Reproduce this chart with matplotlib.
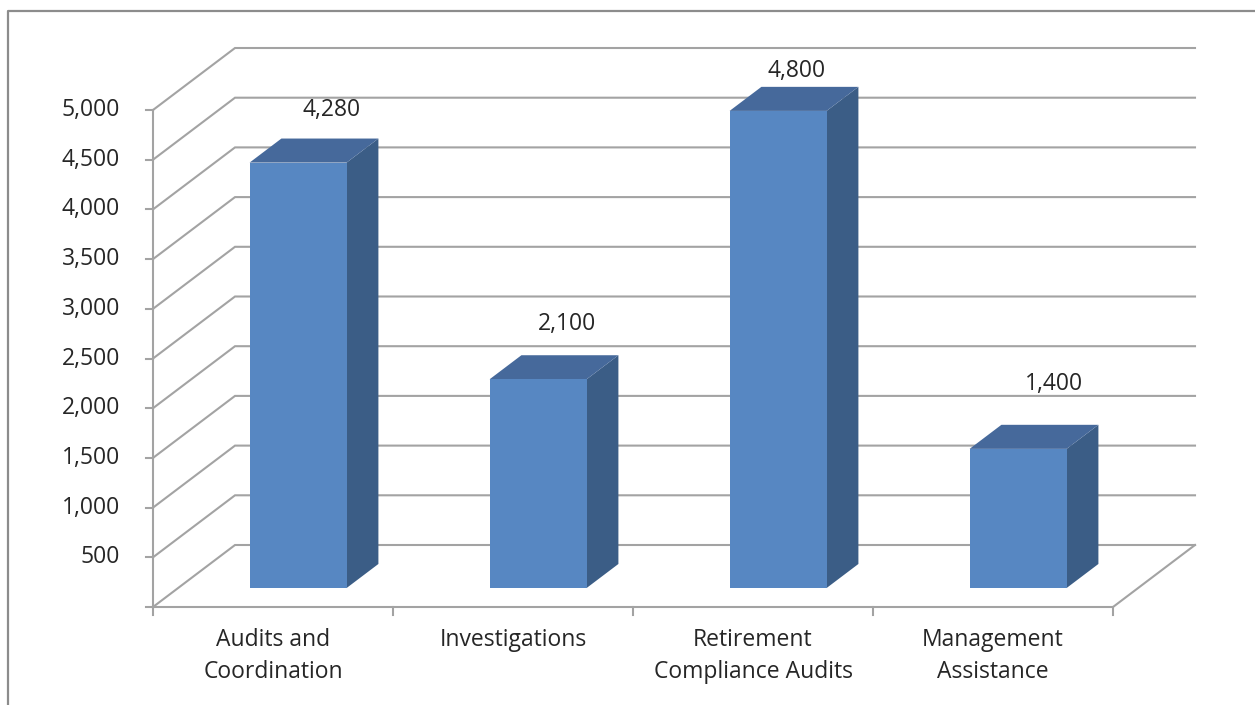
import matplotlib.pyplot as plt
from matplotlib.patches import Polygon
from matplotlib.lines import Line2D

# chart data
categories = ['Audits and\nCoordination', 'Investigations',
              'Retirement\nCompliance Audits', 'Management\nAssistance']
values = [4280, 2100, 4800, 1400]
value_labels = ['4,280', '2,100', '4,800', '1,400']
y_ticks = [0, 500, 1000, 1500, 2000, 2500, 3000, 3500, 4000, 4500, 5000]
y_tick_labels = ['', '500', '1,000', '1,500', '2,000', '2,500', '3,000',
                 '3,500', '4,000', '4,500', '5,000']

# pixel scale of the front plane (used only to place the fake 3d depth)
PX_X = 240.0      # px per category
PX_Y = 0.0994     # px per unit of value
X0_PX, Y0_PX = 153, 607   # where (0, 0) sits in the picture

back_dx = 82 / PX_X        # offset of back wall, in category units
back_dy = 62 / PX_Y        # and in value units
depth_front = 0.306        # bar front face depth (0 = front, 1 = back wall)
depth_back = 0.694
bar_width = 97 / PX_X

front_col = '#5787c2'
side_col = '#3b5d86'
top_col = '#46699b'
grid_col = '#a3a3a3'
text_col = '#262626'
FS = 16.5

# small per-label nudges (px) to sit the labels where excel put them
label_nudge_px = [(18, -41), (13, -43), (3, -28), (20, -53)]

plt.rcParams['font.family'] = ['Open Sans', 'DejaVu Sans']


def proj(x, y, d):
    return (x + d * back_dx, y + d * back_dy)


fig = plt.figure(figsize=(12.55, 7.05), dpi=100)
ax = fig.add_axes([0, 0, 1, 1])
ax.set_xlim(-X0_PX / PX_X, (1255 - X0_PX) / PX_X)
ax.set_ylim(-(705 - Y0_PX) / PX_Y, Y0_PX / PX_Y)
ax.axis('off')

n = len(categories)

# gridlines: front-left diagonal + back wall line
for v, lab in zip(y_ticks, y_tick_labels):
    p0 = proj(0, v, 0)
    p1 = proj(0, v, 1)
    p2 = proj(n, v, 1)
    ax.plot([p0[0], p1[0], p2[0]], [p0[1], p1[1], p2[1]],
            color=grid_col, lw=1.5, solid_joinstyle='miter', zorder=1)
    # tick mark on front axis
    ax.plot([-7 / PX_X, 0], [v, v], color=grid_col, lw=1.5, zorder=2)
    ax.text(-33 / PX_X, v, lab, ha='right', va='center',
            fontsize=FS, color=text_col)

# front vertical axis
ax.plot([0, 0], [0, y_ticks[-1]], color=grid_col, lw=1.5, zorder=2)

# floor: front edge and right diagonal
pr = proj(n, 0, 1)
ax.plot([0, n, pr[0]], [0, 0, pr[1]], color=grid_col, lw=1.5, zorder=2)
for i in range(n + 1):
    ax.plot([i, i], [0, -8 / PX_Y], color=grid_col, lw=1.5, zorder=2)

# bars
for i, v in enumerate(values):
    cx = i + 0.5
    xl = cx - bar_width / 2
    xr = cx + bar_width / 2
    fl0 = proj(xl, 0, depth_front)
    fr0 = proj(xr, 0, depth_front)
    fr1 = proj(xr, v, depth_front)
    fl1 = proj(xl, v, depth_front)
    br0 = proj(xr, 0, depth_back)
    br1 = proj(xr, v, depth_back)
    bl1 = proj(xl, v, depth_back)
    ax.add_patch(Polygon([fr0, br0, br1, fr1], closed=True,
                         facecolor=side_col, edgecolor='none', zorder=3))
    ax.add_patch(Polygon([fl1, fr1, br1, bl1], closed=True,
                         facecolor=top_col, edgecolor='none', zorder=3))
    ax.add_patch(Polygon([fl0, fr0, fr1, fl1], closed=True,
                         facecolor=front_col, edgecolor='none', zorder=4))

    # value label above the top face
    mid = proj(cx, v, (depth_front + depth_back) / 2)
    nx, ny = label_nudge_px[i]
    ax.text(mid[0] + nx / PX_X, mid[1] - ny / PX_Y, value_labels[i],
            ha='center', va='center', fontsize=FS, color=text_col, zorder=5)

    # category label, one text per line (32 px apart)
    for k, line in enumerate(categories[i].split('\n')):
        ax.text(cx, -(640 + 32 * k - Y0_PX) / PX_Y, line, ha='center',
                va='center', fontsize=FS, color=text_col)

# chart area border (left and top edges only are in view)
fig.add_artist(Line2D([8 / 1255, 8 / 1255, 1.0], [0.0, 1 - 11 / 705, 1 - 11 / 705],
                      color='#8c8c8c', lw=1.6, transform=fig.transFigure))

fig.savefig('out.png', dpi=100)
